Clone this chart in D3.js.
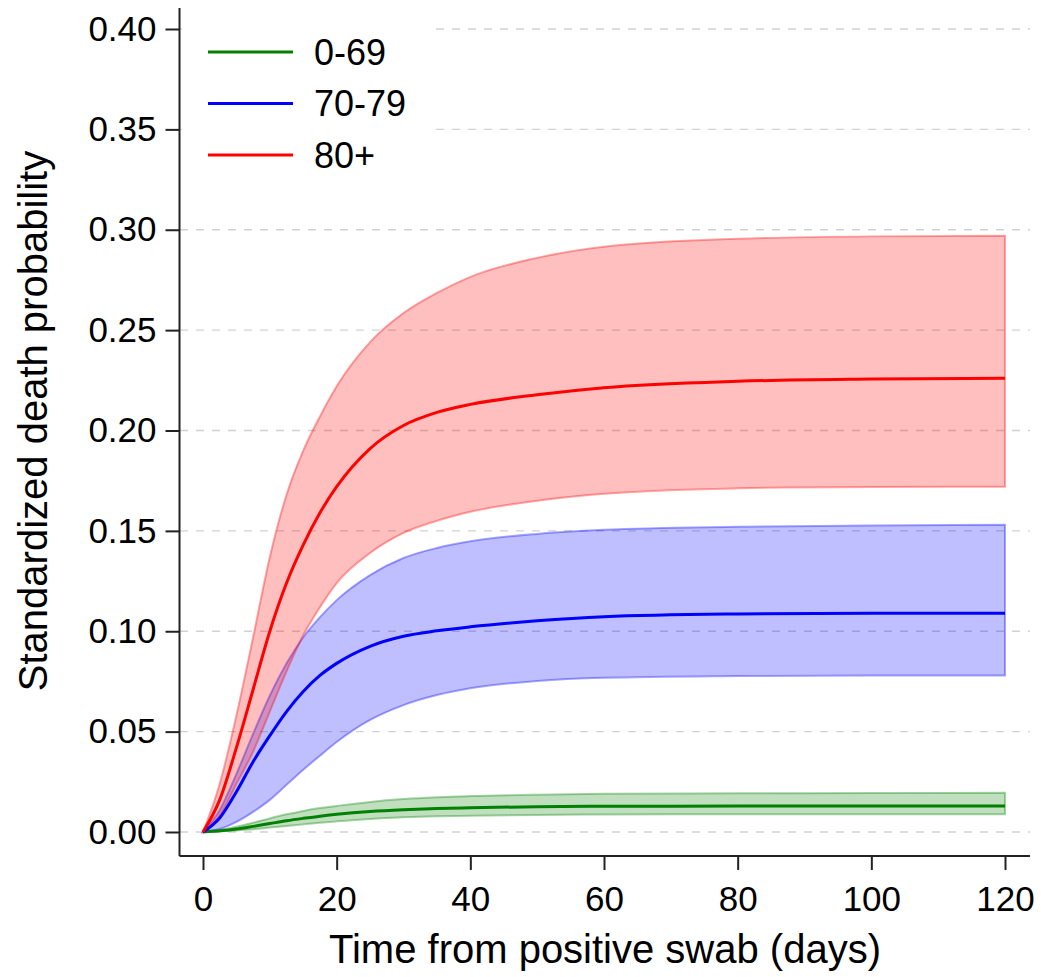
<!DOCTYPE html>
<html>
<head>
<meta charset="utf-8">
<script src="https://cdn.jsdelivr.net/npm/d3@7"></script>
<style>
  body { margin: 0; background: #fff; }
  svg { display: block; font-family: Arial, "Liberation Sans", sans-serif; }
</style>
</head>
<body>
<svg id="chart"></svg>
<script>
const days = [0, 2.5, 5, 7.5, 10, 12.5, 15, 17.5, 20, 25, 30, 35, 40, 50, 60, 80, 100, 120];

// 0-69
const green = [0, 0.0006, 0.0015, 0.0028, 0.0042, 0.0056, 0.0068, 0.0079, 0.0088, 0.0102, 0.0111, 0.0117, 0.0121, 0.0126, 0.0128, 0.0129, 0.013, 0.013];
const greenHi = [0, 0.001, 0.0026, 0.0046, 0.0068, 0.0088, 0.0105, 0.0119, 0.013, 0.015, 0.0164, 0.0173, 0.0179, 0.0186, 0.019, 0.0193, 0.0194, 0.0195];
const greenLo = [0, 0.0003, 0.0008, 0.0014, 0.0022, 0.003, 0.0038, 0.0046, 0.0053, 0.0065, 0.0073, 0.0078, 0.0081, 0.0085, 0.0087, 0.0088, 0.0088, 0.0088];

// 70-79
const blue = [0, 0.007, 0.02, 0.035, 0.048, 0.06, 0.07, 0.078, 0.084, 0.0925, 0.0975, 0.1002, 0.1022, 0.1052, 0.1072, 0.1086, 0.109, 0.109];
const blueHi = [0, 0.011, 0.029, 0.049, 0.068, 0.084, 0.097, 0.107, 0.1155, 0.128, 0.1365, 0.1415, 0.1448, 0.1485, 0.1505, 0.152, 0.1527, 0.153];
const blueLo = [0, 0.0015, 0.005, 0.01, 0.016, 0.0235, 0.031, 0.038, 0.0448, 0.0558, 0.0632, 0.0682, 0.0716, 0.0752, 0.0768, 0.0777, 0.078, 0.078];

// 80+
const red = [0, 0.016, 0.042, 0.071, 0.1, 0.124, 0.143, 0.159, 0.172, 0.191, 0.2025, 0.209, 0.213, 0.2178, 0.2213, 0.2245, 0.2256, 0.226];
const redHi = [0, 0.024, 0.058, 0.097, 0.137, 0.168, 0.19, 0.207, 0.222, 0.244, 0.2585, 0.2685, 0.2765, 0.286, 0.2915, 0.2955, 0.2967, 0.297];
const redLo = [0, 0.008, 0.024, 0.04, 0.06, 0.08, 0.098, 0.112, 0.124, 0.139, 0.149, 0.155, 0.1595, 0.165, 0.1685, 0.1712, 0.1719, 0.172];

const groups = ["0-69", "70-79", "80+"];
const colors = ["#008000", "#0000ff", "#ff0000"];
const xTicks = [0, 20, 40, 60, 80, 100, 120];
const yTicks = [0, 0.05, 0.1, 0.15, 0.2, 0.25, 0.3, 0.35, 0.4];

const width = 1041;
const height = 977;

const svg = d3.select("#chart").attr("width", width).attr("height", height);

const x = d3.scaleLinear().domain([0, 120]).range([203, 1005]);
const y = d3.scaleLinear().domain([0, 0.4]).range([832, 29]);

// dashed grid
svg.append("g")
  .selectAll("line")
  .data(yTicks)
  .join("line")
  .attr("x1", 180)
  .attr("x2", 1030)
  .attr("y1", (d) => y(d))
  .attr("y2", (d) => y(d))
  .style("stroke", "#d2d2d2")
  .style("stroke-width", 1.3)
  .style("stroke-dasharray", "8,8");

const series = [
  { mid: green, hi: greenHi, lo: greenLo },
  { mid: blue, hi: blueHi, lo: blueLo },
  { mid: red, hi: redHi, lo: redLo },
];

const area = d3.area()
  .x((d) => x(d.t))
  .y0((d) => y(d.lo))
  .y1((d) => y(d.hi))
  .curve(d3.curveMonotoneX);

const line = d3.line()
  .x((d) => x(d.t))
  .y((d) => y(d.v))
  .curve(d3.curveMonotoneX);

const plot = svg.append("g");

// confidence bands
series.forEach((s, i) => {
  const band = days.map((t, j) => ({ t: t, lo: s.lo[j], hi: s.hi[j] }));
  plot.append("path")
    .datum(band)
    .attr("d", (d) => area(d) + "Z")
    .style("fill", colors[i])
    .style("fill-opacity", 0.25)
    .style("stroke", colors[i])
    .style("stroke-opacity", 0.35)
    .style("stroke-width", 2);
});

// point estimates
series.forEach((s, i) => {
  plot.append("path")
    .datum(days.map((t, j) => ({ t: t, v: s.mid[j] })))
    .attr("d", line)
    .style("fill", "none")
    .style("stroke", colors[i])
    .style("stroke-width", 3);
});

// axes
const yAxis = svg.append("g")
  .attr("transform", "translate(179.5,0)")
  .call(d3.axisLeft(y).tickValues(yTicks).tickFormat(d3.format(".2f")).tickSize(14).tickPadding(9));
yAxis.select(".domain").attr("d", "M0,8V856");

const xAxis = svg.append("g")
  .attr("transform", "translate(0,856)")
  .call(d3.axisBottom(x).tickValues(xTicks).tickSize(14).tickPadding(16));
xAxis.select(".domain").attr("d", "M179.5,0H1030");

svg.selectAll(".domain, .tick line")
  .style("stroke", "#222")
  .style("stroke-width", 2);
svg.selectAll(".tick text")
  .style("font-size", "35px")
  .style("font-family", "Arial, 'Liberation Sans', sans-serif")
  .style("fill", "#000");

// legend
const legend = svg.append("g");
legend.append("rect")
  .attr("x", 182)
  .attr("y", 4)
  .attr("width", 250)
  .attr("height", 182)
  .style("fill", "#fff");

groups.forEach((g, i) => {
  const ly = 52 + i * 51.5;
  legend.append("line")
    .attr("x1", 208)
    .attr("x2", 293)
    .attr("y1", ly)
    .attr("y2", ly)
    .style("stroke", colors[i])
    .style("stroke-width", 3);
  legend.append("text")
    .attr("x", 314)
    .attr("y", ly)
    .attr("dy", "0.36em")
    .style("font-size", "36px")
    .text(g);
});

// axis titles
svg.append("text")
  .attr("x", 605)
  .attr("y", 963)
  .attr("text-anchor", "middle")
  .style("font-size", "40px")
  .text("Time from positive swab (days)");

svg.append("text")
  .attr("transform", "translate(47,421) rotate(-90)")
  .attr("text-anchor", "middle")
  .style("font-size", "40px")
  .text("Standardized death probability");
</script>
</body>
</html>
